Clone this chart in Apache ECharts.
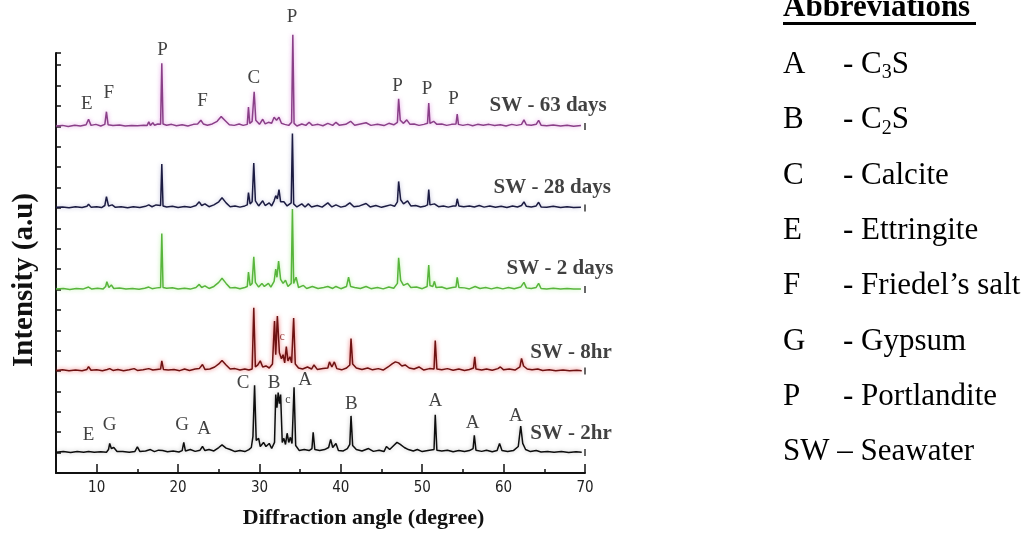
<!DOCTYPE html>
<html><head><meta charset="utf-8">
<script src="https://cdn.jsdelivr.net/npm/echarts@6/dist/echarts.min.js"></script>
<style>html,body{margin:0;padding:0;background:#fff}#c{width:1035px;height:534px}</style>
</head><body><div id="c"></div>
<script>
// ---------------- DATA ----------------
const xMajorTicks = [10, 20, 30, 40, 50, 60, 70];
const xMinorTicks = [15, 25, 35, 45, 55, 65];
const seriesNames = ['SW - 63 days', 'SW - 28 days', 'SW - 2 days', 'SW - 8hr', 'SW - 2hr'];
const offsets = [17, 13, 9, 5, 1];            // vertical offset of each pattern (a.u.)
const nameAnchors = [[58.2, 1.0], [58.7, 1.0], [60.3, 1.05], [63.2, 0.9], [63.2, 0.95]];

// [2theta (deg), intensity above own baseline (a.u.)]
const sw63 = [[5.0,0.02],[5.8,0.05],[6.5,0.0],[7.3,0.06],[8.0,0.02],[8.7,0.08],[9.0,0.35],[9.3,0.05],[9.9,0.1],[10.5,0.02],[11.0,0.1],[11.2,0.72],[11.4,0.08],[12.0,0.04],[12.8,0.07],[13.5,0.02],[14.3,0.05],[15.0,0.03],[15.8,0.06],[16.2,0.05],[16.4,0.22],[16.6,0.05],[16.9,0.18],[17.1,0.06],[17.5,0.12],[17.85,0.1],[18.0,3.1],[18.15,0.12],[18.6,0.06],[19.2,0.1],[19.8,0.03],[20.5,0.08],[21.2,0.02],[21.9,0.1],[22.4,0.12],[22.8,0.3],[23.1,0.12],[23.6,0.06],[24.2,0.12],[24.8,0.25],[25.3,0.48],[25.8,0.28],[26.3,0.08],[26.9,0.05],[27.5,0.12],[28.0,0.05],[28.5,0.1],[28.65,0.95],[28.8,0.15],[29.1,0.25],[29.35,1.7],[29.55,0.3],[30.0,0.1],[30.4,0.35],[30.7,0.12],[31.1,0.2],[31.5,0.15],[31.8,0.45],[32.1,0.3],[32.4,0.45],[32.7,0.15],[33.1,0.1],[33.6,0.05],[33.95,0.2],[34.1,4.5],[34.25,0.15],[34.6,0.02],[35.2,0.12],[35.7,0.05],[36.1,0.2],[36.5,0.05],[37.2,0.1],[37.8,0.03],[38.4,0.15],[39.0,0.05],[39.4,0.2],[39.8,0.06],[40.6,0.1],[41.2,0.25],[41.7,0.06],[42.4,0.12],[43.1,0.18],[43.7,0.05],[44.5,0.1],[45.3,0.04],[45.9,0.15],[46.5,0.08],[46.95,0.2],[47.1,1.35],[47.3,0.3],[47.7,0.15],[48.1,0.32],[48.5,0.1],[49.0,0.12],[49.6,0.05],[50.2,0.1],[50.65,0.15],[50.8,1.15],[50.95,0.15],[51.4,0.25],[51.8,0.1],[52.4,0.12],[53.0,0.05],[53.6,0.1],[54.15,0.12],[54.3,0.6],[54.45,0.1],[55.0,0.05],[55.6,0.1],[56.2,0.03],[56.8,0.1],[57.5,0.06],[58.2,0.1],[58.9,0.04],[59.6,0.08],[60.3,0.02],[61.0,0.1],[61.6,0.05],[62.2,0.1],[62.5,0.32],[62.8,0.08],[63.4,0.06],[64.0,0.1],[64.3,0.3],[64.6,0.06],[65.3,0.03],[66.1,0.07],[67.0,0.02],[67.8,0.06],[68.6,0.01],[69.5,0.04]];
const sw28 = [[5.0,0.03],[5.8,0.05],[6.6,0.01],[7.4,0.06],[8.2,0.02],[8.8,0.08],[9.0,0.18],[9.3,0.04],[10.0,0.06],[10.6,0.02],[11.0,0.12],[11.2,0.55],[11.45,0.1],[11.9,0.15],[12.3,0.03],[13.0,0.06],[13.8,0.01],[14.5,0.06],[15.3,0.02],[16.0,0.08],[16.4,0.15],[16.8,0.06],[17.3,0.15],[17.85,0.12],[18.0,2.15],[18.15,0.1],[18.6,0.05],[19.3,0.08],[20.0,0.02],[20.8,0.07],[21.5,0.03],[22.2,0.12],[22.6,0.3],[22.9,0.12],[23.3,0.2],[23.8,0.06],[24.4,0.15],[25.0,0.3],[25.4,0.5],[25.9,0.25],[26.4,0.06],[27.0,0.1],[27.6,0.04],[28.2,0.1],[28.5,0.15],[28.65,0.75],[28.85,0.2],[29.1,0.3],[29.3,2.2],[29.5,0.35],[29.9,0.1],[30.4,0.35],[30.7,0.12],[31.2,0.25],[31.5,0.1],[31.8,0.35],[32.0,0.6],[32.2,0.45],[32.4,0.9],[32.6,0.3],[33.0,0.3],[33.4,0.1],[33.9,0.25],[34.05,3.65],[34.2,0.2],[34.6,0.05],[35.2,0.2],[35.6,0.05],[36.0,0.2],[36.4,0.05],[37.1,0.12],[37.7,0.04],[38.4,0.25],[38.9,0.05],[39.4,0.15],[40.0,0.04],[40.6,0.1],[41.1,0.25],[41.6,0.06],[42.3,0.1],[43.1,0.22],[43.6,0.05],[44.3,0.12],[45.0,0.03],[45.6,0.1],[46.1,0.15],[46.6,0.08],[46.95,0.3],[47.1,1.3],[47.35,0.4],[47.7,0.2],[48.2,0.35],[48.6,0.1],[49.2,0.12],[49.8,0.05],[50.4,0.1],[50.65,0.15],[50.8,0.9],[50.95,0.15],[51.5,0.2],[52.0,0.06],[52.6,0.1],[53.2,0.04],[53.8,0.1],[54.15,0.1],[54.3,0.45],[54.5,0.1],[55.1,0.06],[55.8,0.1],[56.4,0.05],[57.0,0.12],[57.6,0.04],[58.3,0.1],[59.0,0.03],[59.7,0.08],[60.4,0.02],[61.1,0.1],[61.7,0.05],[62.2,0.12],[62.5,0.3],[62.8,0.08],[63.4,0.05],[64.0,0.1],[64.3,0.28],[64.6,0.05],[65.3,0.04],[66.1,0.08],[67.0,0.02],[67.8,0.06],[68.6,0.02],[69.5,0.04]];
const sw2d = [[5.0,0.02],[5.9,0.05],[6.7,0.0],[7.5,0.05],[8.3,0.02],[9.0,0.12],[9.4,0.02],[10.1,0.06],[10.8,0.03],[11.1,0.15],[11.25,0.38],[11.5,0.1],[11.8,0.22],[12.1,0.05],[12.8,0.07],[13.6,0.02],[14.4,0.05],[15.2,0.01],[15.9,0.06],[16.4,0.12],[16.8,0.04],[17.4,0.08],[17.85,0.1],[18.0,2.75],[18.15,0.1],[18.6,0.06],[19.3,0.09],[20.0,0.02],[20.8,0.06],[21.5,0.02],[22.2,0.1],[22.6,0.25],[22.9,0.1],[23.3,0.18],[23.8,0.05],[24.4,0.15],[25.0,0.35],[25.4,0.55],[25.9,0.3],[26.4,0.08],[27.0,0.1],[27.6,0.04],[28.2,0.1],[28.5,0.15],[28.65,0.85],[28.85,0.2],[29.1,0.3],[29.3,1.6],[29.5,0.35],[29.9,0.12],[30.3,0.3],[30.6,0.15],[31.1,0.3],[31.4,0.12],[31.8,0.4],[32.0,1.0],[32.15,0.6],[32.35,1.4],[32.6,0.5],[32.9,0.3],[33.2,0.45],[33.5,0.15],[33.9,0.3],[34.05,3.95],[34.2,0.3],[34.5,0.6],[34.8,0.1],[35.4,0.2],[35.8,0.05],[36.5,0.15],[37.2,0.05],[37.9,0.1],[38.4,0.15],[39.0,0.05],[39.4,0.15],[40.0,0.04],[40.7,0.15],[40.95,0.6],[41.2,0.15],[41.7,0.1],[42.4,0.05],[43.1,0.15],[43.7,0.04],[44.5,0.1],[45.2,0.03],[45.9,0.12],[46.5,0.06],[46.95,0.3],[47.1,1.55],[47.35,0.45],[47.7,0.2],[48.2,0.3],[48.6,0.1],[49.3,0.12],[50.0,0.04],[50.6,0.15],[50.8,1.2],[50.95,0.2],[51.3,0.15],[51.5,0.4],[51.7,0.1],[52.4,0.12],[53.0,0.04],[53.7,0.1],[54.15,0.12],[54.3,0.6],[54.5,0.1],[55.2,0.08],[55.8,0.03],[56.5,0.15],[57.1,0.05],[57.8,0.1],[58.5,0.03],[59.2,0.1],[59.9,0.03],[60.6,0.1],[61.3,0.04],[62.1,0.12],[62.5,0.35],[62.8,0.08],[63.4,0.05],[64.0,0.1],[64.3,0.3],[64.6,0.05],[65.3,0.03],[66.1,0.06],[67.0,0.02],[67.8,0.05],[68.6,0.02],[69.5,0.03]];
const sw8h = [[5.0,0.03],[5.8,0.06],[6.6,0.01],[7.4,0.05],[8.2,0.02],[8.8,0.08],[9.0,0.22],[9.3,0.04],[10.0,0.06],[10.7,0.02],[11.3,0.08],[11.6,0.12],[12.0,0.03],[12.6,0.08],[13.3,0.02],[14.0,0.06],[14.6,0.12],[15.0,0.03],[15.7,0.06],[16.4,0.12],[16.9,0.05],[17.4,0.08],[17.85,0.1],[18.0,0.5],[18.2,0.08],[18.8,0.05],[19.5,0.08],[20.2,0.02],[20.8,0.1],[21.4,0.03],[22.1,0.1],[22.6,0.12],[23.0,0.32],[23.3,0.08],[23.9,0.1],[24.5,0.2],[25.0,0.35],[25.4,0.52],[25.9,0.3],[26.4,0.1],[27.0,0.12],[27.6,0.05],[28.2,0.1],[28.7,0.05],[29.1,0.1],[29.3,3.1],[29.5,0.2],[29.8,0.3],[30.1,0.5],[30.4,0.2],[30.8,0.25],[31.2,0.15],[31.6,0.35],[31.85,2.45],[32.0,0.8],[32.2,2.7],[32.45,0.9],[32.7,0.6],[32.9,0.8],[33.1,0.4],[33.3,1.2],[33.5,0.5],[33.75,0.7],[33.95,0.4],[34.2,2.6],[34.4,0.35],[34.8,0.15],[35.3,0.1],[35.9,0.2],[36.4,0.1],[36.7,0.3],[37.1,0.08],[37.8,0.12],[38.4,0.15],[38.6,0.45],[38.9,0.2],[39.2,0.45],[39.5,0.12],[40.1,0.06],[40.7,0.15],[41.1,0.3],[41.25,1.6],[41.45,0.35],[41.9,0.15],[42.6,0.08],[43.3,0.15],[43.9,0.06],[44.6,0.12],[45.2,0.05],[45.8,0.2],[46.3,0.35],[46.7,0.45],[47.1,0.4],[47.5,0.25],[47.9,0.3],[48.4,0.15],[49.0,0.1],[49.6,0.2],[50.2,0.05],[50.9,0.12],[51.45,0.1],[51.6,1.5],[51.8,0.1],[52.4,0.06],[53.1,0.12],[53.8,0.04],[54.5,0.1],[55.2,0.03],[55.8,0.08],[56.3,0.15],[56.45,0.7],[56.6,0.1],[57.3,0.05],[57.9,0.1],[58.6,0.04],[59.3,0.12],[59.6,0.2],[60.0,0.06],[60.7,0.1],[61.4,0.05],[62.0,0.2],[62.2,0.62],[62.45,0.25],[62.9,0.1],[63.5,0.06],[64.2,0.1],[64.8,0.03],[65.6,0.06],[66.4,0.02],[67.3,0.05],[68.1,0.01],[69.0,0.04],[69.6,0.02]];
const sw2h = [[5.0,0.02],[5.9,0.05],[6.8,0.01],[7.6,0.05],[8.4,0.02],[9.0,0.06],[9.7,0.02],[10.5,0.04],[11.2,0.02],[11.45,0.15],[11.6,0.45],[11.8,0.2],[12.1,0.25],[12.5,0.05],[13.2,0.06],[14.0,0.02],[14.7,0.06],[15.0,0.28],[15.3,0.06],[16.0,0.08],[16.6,0.15],[17.1,0.05],[17.6,0.12],[18.1,0.1],[18.7,0.04],[19.4,0.08],[20.1,0.03],[20.5,0.1],[20.7,0.5],[20.9,0.08],[21.5,0.15],[22.1,0.06],[22.7,0.12],[23.0,0.3],[23.3,0.1],[23.8,0.15],[24.4,0.08],[25.0,0.25],[25.4,0.38],[25.9,0.22],[26.4,0.15],[27.0,0.05],[27.6,0.1],[28.2,0.05],[28.7,0.15],[29.0,0.25],[29.2,0.8],[29.4,3.3],[29.6,0.6],[29.9,0.7],[30.1,0.3],[30.5,0.5],[30.8,0.3],[31.2,0.45],[31.5,0.2],[31.85,0.5],[32.0,2.85],[32.15,2.2],[32.3,2.95],[32.45,2.4],[32.6,2.85],[32.8,0.5],[33.0,0.7],[33.2,0.4],[33.4,0.95],[33.6,0.5],[33.8,0.75],[34.0,0.45],[34.25,3.2],[34.45,0.35],[34.9,0.1],[35.5,0.15],[36.1,0.1],[36.45,0.2],[36.6,1.0],[36.8,0.15],[37.4,0.1],[38.0,0.15],[38.5,0.25],[38.75,0.65],[39.0,0.25],[39.4,0.45],[39.7,0.1],[40.3,0.08],[40.8,0.2],[41.1,0.4],[41.25,1.8],[41.45,0.35],[41.9,0.15],[42.6,0.08],[43.4,0.2],[44.0,0.06],[44.7,0.12],[45.3,0.05],[45.6,0.3],[46.0,0.15],[46.5,0.35],[46.9,0.5],[47.3,0.4],[47.8,0.25],[48.3,0.15],[48.9,0.08],[49.4,0.15],[50.0,0.05],[50.7,0.1],[51.45,0.15],[51.6,1.85],[51.8,0.12],[52.4,0.08],[53.1,0.12],[53.8,0.04],[54.5,0.1],[55.2,0.05],[55.8,0.1],[56.25,0.2],[56.4,0.85],[56.6,0.12],[57.3,0.06],[57.9,0.12],[58.6,0.04],[59.2,0.1],[59.5,0.45],[59.8,0.1],[60.5,0.05],[61.2,0.1],[61.8,0.3],[62.1,1.3],[62.35,0.45],[62.7,0.15],[63.3,0.05],[64.0,0.1],[64.6,0.03],[65.4,0.06],[66.2,0.02],[67.1,0.05],[68.0,0.01],[68.9,0.04],[69.6,0.02]];

// phase labels: [2theta, height above own baseline, letter]
const phaseLabels63 = [[8.8,1.1,'E'],[11.5,1.65,'F'],[18.1,3.75,'P'],[23.0,1.25,'F'],[29.3,2.35,'C'],[34.0,5.35,'P'],[46.95,2.0,'P'],[50.6,1.85,'P'],[53.85,1.35,'P']];
const phaseLabels2h = [[9.0,0.85,'E'],[11.6,1.35,'G'],[20.5,1.35,'G'],[23.2,1.15,'A'],[28.0,3.4,'C'],[31.8,3.4,'B'],[35.6,3.55,'A'],[41.3,2.4,'B'],[51.6,2.55,'A'],[56.2,1.45,'A'],[61.5,1.8,'A']];
const minorLabels8h = [[32.8,1.7,'c']];
const minorLabels2h = [[33.5,2.6,'c']];

// abbreviation key
const abbrTitle = 'Abbreviations';
const abbrKeys = ['A', 'B', 'C', 'E', 'F', 'G', 'P'];
const abbrTexts = ['- C3S', '- C2S', '- Calcite', '- Ettringite', '- Friedel\u2019s salt', '- Gypsum', '- Portlandite'];
const abbrLast = 'SW \u2013 Seawater';

// ---------------- CHART ----------------
const patterns = [sw63, sw28, sw2d, sw8h, sw2h];
const lineColors = ['#8a3f88', '#1b1b42', '#58b53c', '#6e1212', '#0d0d0d'];
const glowColors = ['rgba(220,130,220,0.8)', 'rgba(90,90,160,0.4)', 'rgba(140,230,110,0.6)', 'rgba(230,60,60,0.8)', 'rgba(0,0,0,0.25)'];
const SERIF = "'Liberation Serif','Times New Roman',serif";
const NARROW = "'Liberation Sans Narrow','DejaVu Sans Condensed','Liberation Sans',sans-serif";

const series = [];
patterns.forEach((pat, i) => {
  series.push({
    type: 'line', name: seriesNames[i], clip: false, symbol: 'none', z: 3,
    data: pat.map(p => [p[0], p[1] + offsets[i]]),
    lineStyle: { color: lineColors[i], width: 1.5, shadowBlur: 4, shadowColor: glowColors[i] }
  });
});
function labelSeries(arr, off, size, color) {
  return {
    type: 'scatter', clip: false, symbolSize: 1, itemStyle: { color: 'rgba(0,0,0,0)' }, z: 5,
    data: arr.map(a => ({ value: [a[0], a[1] + off], label: { formatter: a[2] } })),
    label: { show: true, position: 'inside', fontFamily: SERIF, fontSize: size, color: color }
  };
}
series.push(labelSeries(phaseLabels63, offsets[0], 19, '#111'));
series.push(labelSeries(phaseLabels2h, offsets[4], 19, '#111'));
series.push(labelSeries(minorLabels8h, offsets[3], 12, '#8a1a1a'));
series.push(labelSeries(minorLabels2h, offsets[4], 12, '#111'));
// pattern names
series.push({
  type: 'scatter', clip: false, symbolSize: 1, itemStyle: { color: 'rgba(0,0,0,0)' }, z: 5,
  data: seriesNames.map((n, i) => ({ value: [nameAnchors[i][0], nameAnchors[i][1] + offsets[i]], label: { formatter: n } })),
  label: { show: true, position: 'right', distance: 0, fontFamily: SERIF, fontWeight: 'bold', fontSize: 21, color: '#111' }
});
// small end marks on the right of each pattern
series.push({
  type: 'scatter', clip: false, symbol: 'rect', symbolSize: [1.6, 7], itemStyle: { color: '#111' }, z: 4,
  data: offsets.map(o => [70, o])
});

// abbreviation key graphics
const graphics = [];
graphics.push({ type: 'text', x: 783, y: 8, style: { text: abbrTitle, fontFamily: SERIF, fontWeight: 'bold', fontSize: 31, fill: '#000', align: 'left', verticalAlign: 'middle' } });
graphics.push({ type: 'rect', shape: { x: 783, y: 22, width: 193, height: 3 }, style: { fill: '#000' } });
const rowY0 = 65, rowGap = 55.3;
abbrKeys.forEach((k, i) => {
  graphics.push({ type: 'text', x: 783, y: rowY0 + i * rowGap, style: { text: k, fontFamily: SERIF, fontSize: 31, fill: '#000', align: 'left', verticalAlign: 'middle' } });
  const t = abbrTexts[i].replace(/C(\d)S/, 'C{sub|$1}S');
  graphics.push({ type: 'text', x: 843, y: rowY0 + i * rowGap, style: {
    text: t, fontFamily: SERIF, fontSize: 31, lineHeight: 36, fill: '#000', align: 'left', verticalAlign: 'middle',
    rich: { sub: { fontFamily: SERIF, fontSize: 20, lineHeight: 36, verticalAlign: 'bottom', fill: '#000' } }
  } });
});
graphics.push({ type: 'text', x: 783, y: rowY0 + abbrKeys.length * rowGap, style: { text: abbrLast, fontFamily: SERIF, fontSize: 31, fill: '#000', align: 'left', verticalAlign: 'middle' } });

const chart = echarts.init(document.getElementById('c'), null, { renderer: 'canvas' });
chart.setOption({
  animation: false,
  backgroundColor: '#fff',
  grid: { left: 56, right: 450, top: 53, bottom: 61 },
  xAxis: [{
    type: 'value', min: 5, max: 70, interval: 5, position: 'bottom',
    name: 'Diffraction angle (degree)', nameLocation: 'middle', nameGap: 34,
    nameTextStyle: { fontFamily: SERIF, fontWeight: 'bold', fontSize: 22, color: '#111', padding: [0, 0, 0, 86] },
    axisLine: { show: true, lineStyle: { color: '#111', width: 2 } },
    axisTick: { show: true, inside: true, length: 9, lineStyle: { color: '#111', width: 1.5 }, customValues: xMajorTicks },
    axisLabel: { show: true, margin: 8, fontFamily: NARROW, fontSize: 15, color: '#222', customValues: xMajorTicks },
    splitLine: { show: false }
  }, {
    type: 'value', min: 5, max: 70, interval: 5, position: 'bottom',
    axisLine: { show: false },
    axisTick: { show: true, inside: true, length: 4, lineStyle: { color: '#111', width: 1.5 }, customValues: xMinorTicks },
    axisLabel: { show: false },
    splitLine: { show: false }
  }],
  yAxis: {
    type: 'value', min: 0, max: 20.6, interval: 1,
    name: 'Intensity (a.u)', nameLocation: 'middle', nameGap: 17,
    nameTextStyle: { fontFamily: SERIF, fontWeight: 'bold', fontSize: 29, color: '#111', padding: [0, 34, 0, 0] },
    axisLine: { show: true, lineStyle: { color: '#111', width: 2 } },
    axisTick: { show: true, inside: true, length: 5, lineStyle: { color: '#111', width: 1.5 } },
    axisLabel: { show: false },
    splitLine: { show: false }
  },
  series: series,
  graphic: graphics
});
</script></body></html>
